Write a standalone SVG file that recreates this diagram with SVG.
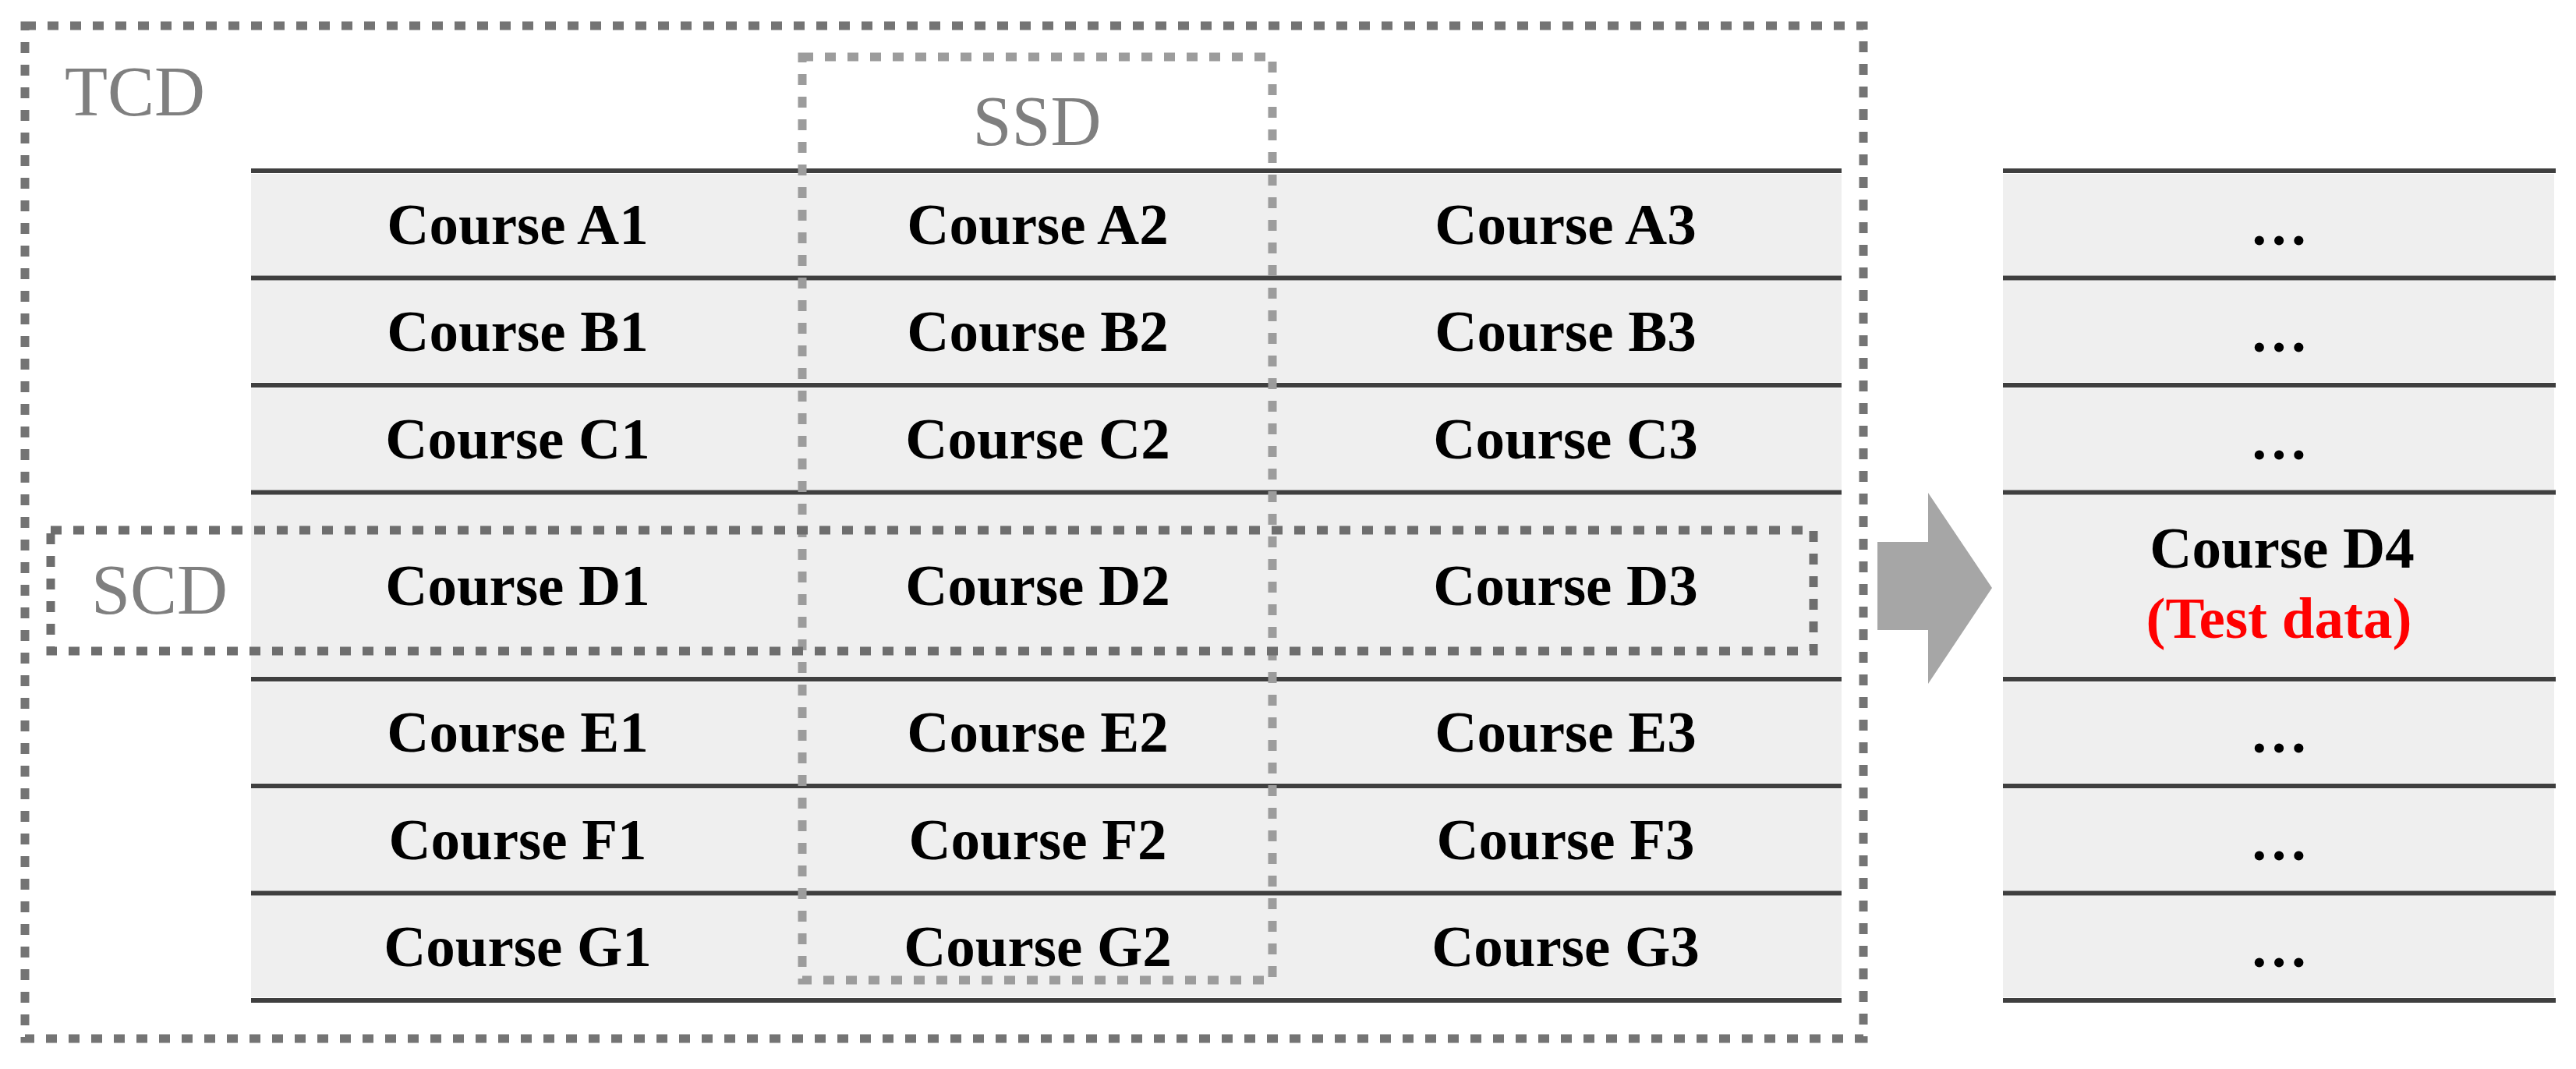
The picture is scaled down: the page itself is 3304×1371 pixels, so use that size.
<svg xmlns="http://www.w3.org/2000/svg" width="3304" height="1371" viewBox="0 0 3304 1371">
<style>
.fill{fill:#efefef}
.rule{stroke:#3f3f3f;stroke-width:6;fill:none}
.cell{font-family:"Liberation Serif","Times New Roman",serif;font-weight:bold;font-size:75px;fill:#000;text-anchor:middle}
.red{fill:#ff0000}
.lbl{font-family:"Liberation Serif","Times New Roman",serif;font-size:90px;fill:#7f7f7f}
.box{fill:none;stroke-width:11;stroke-dasharray:14 15}
</style>
<rect width="3304" height="1371" fill="#ffffff"/>
<g id="fills">
<rect class="fill" x="322" y="223" width="2040" height="130"/>
<rect class="fill" x="322" y="360" width="2040" height="130"/>
<rect class="fill" x="322" y="498" width="2040" height="130"/>
<rect class="fill" x="322" y="635" width="2040" height="232"/>
<rect class="fill" x="322" y="875" width="2040" height="129"/>
<rect class="fill" x="322" y="1012" width="2040" height="130"/>
<rect class="fill" x="322" y="1149" width="2040" height="130"/>
<rect class="fill" x="2569" y="223" width="707" height="130"/>
<rect class="fill" x="2569" y="360" width="707" height="130"/>
<rect class="fill" x="2569" y="498" width="707" height="130"/>
<rect class="fill" x="2569" y="635" width="707" height="232"/>
<rect class="fill" x="2569" y="875" width="707" height="129"/>
<rect class="fill" x="2569" y="1012" width="707" height="130"/>
<rect class="fill" x="2569" y="1149" width="707" height="130"/>
</g>
<g id="rules">
<path class="rule" d="M322 219H2362M322 356.5H2362M322 494H2362M322 631.5H2362M322 871H2362M322 1008H2362M322 1145.5H2362M322 1283H2362"/>
<path class="rule" d="M2569 219H3278M2569 356.5H3278M2569 494H3278M2569 631.5H3278M2569 871H3278M2569 1008H3278M2569 1145.5H3278M2569 1283H3278"/>
</g>
<g id="tcd">
<rect class="box" x="32" y="33" width="2358" height="1299" stroke="#747474"/>
<text class="lbl" x="83" y="148">TCD</text>
</g>
<g id="ssd">
<rect class="box" x="1029" y="73" width="603" height="1184" stroke="#9c9c9c"/>
<text class="lbl" x="1330" y="186" text-anchor="middle">SSD</text>
</g>
<g id="scd">
<rect class="box" x="65" y="680" width="2261" height="155" stroke="#6e6e6e"/>
<text class="lbl" x="117" y="787">SCD</text>
</g>
<g id="cells">
<g id="cA1"><text class="cell" x="664" y="313">Course A1</text></g>
<g id="cA2"><text class="cell" x="1331" y="313">Course A2</text></g>
<g id="cA3"><text class="cell" x="2008" y="313">Course A3</text></g>
<g id="cB1"><text class="cell" x="664" y="450">Course B1</text></g>
<g id="cB2"><text class="cell" x="1331" y="450">Course B2</text></g>
<g id="cB3"><text class="cell" x="2008" y="450">Course B3</text></g>
<g id="cC1"><text class="cell" x="664" y="588">Course C1</text></g>
<g id="cC2"><text class="cell" x="1331" y="588">Course C2</text></g>
<g id="cC3"><text class="cell" x="2008" y="588">Course C3</text></g>
<g id="cD1"><text class="cell" x="664" y="776">Course D1</text></g>
<g id="cD2"><text class="cell" x="1331" y="776">Course D2</text></g>
<g id="cD3"><text class="cell" x="2008" y="776">Course D3</text></g>
<g id="cE1"><text class="cell" x="664" y="964">Course E1</text></g>
<g id="cE2"><text class="cell" x="1331" y="964">Course E2</text></g>
<g id="cE3"><text class="cell" x="2008" y="964">Course E3</text></g>
<g id="cF1"><text class="cell" x="664" y="1102">Course F1</text></g>
<g id="cF2"><text class="cell" x="1331" y="1102">Course F2</text></g>
<g id="cF3"><text class="cell" x="2008" y="1102">Course F3</text></g>
<g id="cG1"><text class="cell" x="664" y="1239">Course G1</text></g>
<g id="cG2"><text class="cell" x="1331" y="1239">Course G2</text></g>
<g id="cG3"><text class="cell" x="2008" y="1239">Course G3</text></g>
</g>
<g id="test">
<g id="rA"><text class="cell" x="2923" y="314">…</text></g>
<g id="rB"><text class="cell" x="2923" y="451">…</text></g>
<g id="rC"><text class="cell" x="2923" y="589">…</text></g>
<g id="rD"><text class="cell" x="2927" y="728">Course D4</text><text class="cell red" x="2923" y="818">(Test data)</text></g>
<g id="rE"><text class="cell" x="2923" y="965">…</text></g>
<g id="rF"><text class="cell" x="2923" y="1103">…</text></g>
<g id="rG"><text class="cell" x="2923" y="1240">…</text></g>
</g>
<g id="connectors">
<polygon points="2408,695 2473,695 2473,632 2555,754 2473,877 2473,808 2408,808" fill="#a6a6a6"/>
</g>
</svg>
